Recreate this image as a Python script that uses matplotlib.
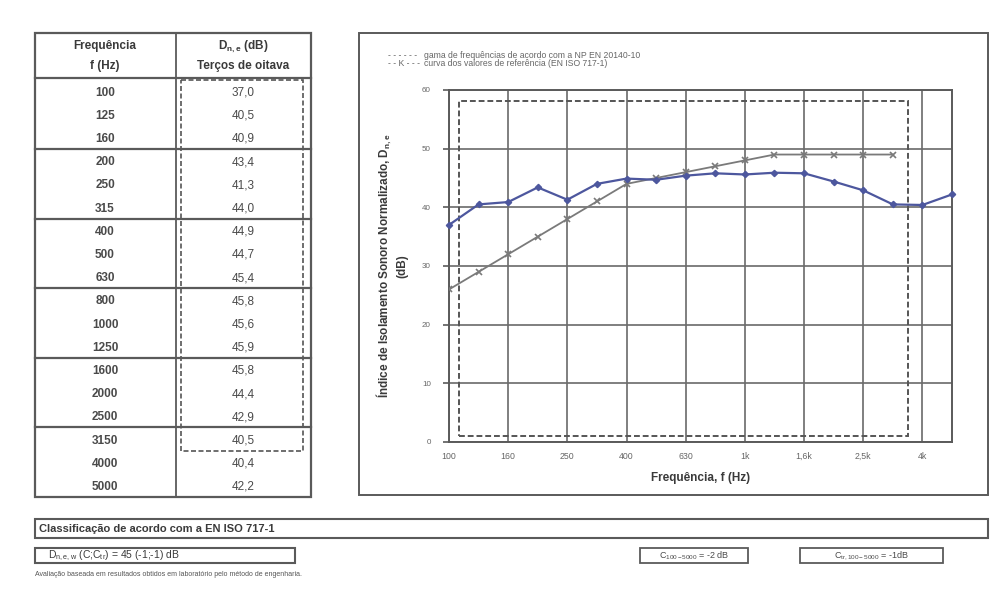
import numpy as np
import matplotlib
matplotlib.use("Agg")
import matplotlib.pyplot as plt
from matplotlib.patches import Rectangle

plt.rcParams['font.family'] = ['Liberation Sans', 'DejaVu Sans']
plt.rcParams['mathtext.fontset'] = 'custom'
plt.rcParams['mathtext.rm'] = 'Liberation Sans'
plt.rcParams['mathtext.it'] = 'Liberation Sans:italic'
plt.rcParams['mathtext.bf'] = 'Liberation Sans:bold'

# data
freqs = ['100', '125', '160', '200', '250', '315', '400', '500', '630',
         '800', '1000', '1250', '1600', '2000', '2500', '3150', '4000', '5000']
dne = [37.0, 40.5, 40.9, 43.4, 41.3, 44.0, 44.9, 44.7, 45.4,
       45.8, 45.6, 45.9, 45.8, 44.4, 42.9, 40.5, 40.4, 42.2]
ref_curve = [26, 29, 32, 35, 38, 41, 44, 45, 46, 47, 48, 49, 49, 49, 49, 49]
xtick_labels = ['100', '160', '250', '400', '630', '1k', '1,6k', '2,5k', '4k']
yticks = [0, 10, 20, 30, 40, 50, 60]

W, H = 997, 611
fig = plt.figure(figsize=(W / 100, H / 100), dpi=100)
fig.patch.set_facecolor('white')

bg = fig.add_axes([0, 0, 1, 1])
bg.set_xlim(0, W)
bg.set_ylim(H, 0)
bg.axis('off')

dark = '#3a3a3a'
grey = '#5a5a5a'

def box(x0, y0, x1, y1, lw=1.3, ls='-', col=grey):
    bg.add_patch(Rectangle((x0, y0), x1 - x0, y1 - y0, fill=False, lw=lw, ls=ls, ec=col))

def hline(y, x0, x1, lw=1.3):
    bg.plot([x0, x1], [y, y], color=grey, lw=lw)

# ---- left table
tx0, tx1, tdiv = 35, 311, 176
box(tx0, 33, tx1, 497, lw=1.6)
bg.plot([tdiv, tdiv], [33, 497], color=grey, lw=1.3)
hline(78, tx0, tx1, lw=1.6)
bg.text(105, 44, 'Frequência', ha='center', va='center_baseline', fontsize=8.5, fontweight='bold', color=dark)
bg.text(105, 64, 'f (Hz)', ha='center', va='center_baseline', fontsize=8.5, fontweight='bold', color=dark)
bg.text(243, 44, r'D$_{\mathregular{n,e}}$ (dB)', ha='center', va='center_baseline', fontsize=8.5, fontweight='bold', color=dark)
bg.text(243, 64, 'Terços de oitava', ha='center', va='center_baseline', fontsize=8.5, fontweight='bold', color=dark)

row0, rowh = 91, 23.2
for i, (f, v) in enumerate(zip(freqs, dne)):
    y = row0 + i * rowh
    bg.text(105, y, f, ha='center', va='center_baseline', fontsize=8.5, fontweight='bold', color='#4a4a4a')
    bg.text(243, y, f'{v:.1f}'.replace('.', ','), ha='center', va='center_baseline', fontsize=8.5, color='#4a4a4a')
for g in range(1, 6):
    hline(row0 + (3 * g - 0.5) * rowh, tx0, tx1, lw=1.6)
box(181, 80, 303, row0 + 15.5 * rowh, lw=1.2, ls=(0, (3, 1.5)), col='#555555')

# ---- chart frame and legend text
box(359, 33, 988, 495, lw=1.4)
bg.text(388, 55, '- - - - - -', fontsize=6.2, color='#666666', va='center')
bg.text(424, 55, 'gama de frequências de acordo com a NP EN 20140-10',
        fontsize=6.2, color='#666666', va='center')
bg.text(388, 63, '- - K - - -', fontsize=6.2, color='#666666', va='center')
bg.text(424, 63, 'curva dos valores de referência (EN ISO 717-1)',
        fontsize=6.2, color='#666666', va='center')

ax = fig.add_axes([449 / W, 1 - 442 / H, (952 - 449) / W, (442 - 90) / H])
ax.set_facecolor('none')
x = np.arange(len(freqs))
ax.set_xlim(0, len(freqs) - 1)
ax.set_ylim(0, 60)
ax.set_xticks(x[::2])
ax.set_xticklabels(xtick_labels, fontsize=6.3, color='#666666')
ax.set_yticks(yticks)
ax.set_yticklabels([str(t) for t in yticks], fontsize=5.8, color='#666666')
ax.tick_params(axis='x', length=0, pad=7)
ax.tick_params(axis='y', length=4, width=1.2, color=grey, pad=9)
ax.grid(True, color='#6a6a6a', lw=1.2)
ax.set_axisbelow(True)
for s in ax.spines.values():
    s.set_color(grey)
    s.set_linewidth(1.4)

ax.add_patch(Rectangle((0.35, 1.0), 15.5 - 0.35, 58.1 - 1.0, fill=False,
                       lw=1.4, ls=(0, (3, 1.5)), ec='#555555', zorder=3))
ax.plot(x[:len(ref_curve)], ref_curve, color='#7a7a7a', lw=1.3, marker='x',
        ms=4, mew=1.2, zorder=4)
ax.plot(x, dne, color='#4d579e', lw=1.6, marker='D', ms=3.2, zorder=5, clip_on=False)

ax.set_xlabel('Frequência, f (Hz)', fontsize=8.5, fontweight='bold', color=dark, labelpad=8)
ax.set_ylabel('Índice de Isolamento Sonoro Normalizado, D$_{\\mathregular{n,e}}$\n(dB)',
              fontsize=8.5, fontweight='bold', color=dark, labelpad=10)

# ---- bottom classification
box(35, 519, 988, 538, lw=1.5)
bg.text(39, 528.5, 'Classificação de acordo com a EN ISO 717-1', va='center',
        fontsize=8, fontweight='bold', color=dark)
box(35, 548, 295, 563, lw=1.5)
bg.text(48, 555.5, r'D$_{\mathregular{n,e,w}}$ (C;C$_{\mathregular{tr}}$) = 45 (-1;-1) dB',
        va='center', fontsize=7.5, color=dark)
box(640, 548, 748, 563, lw=1.3)
bg.text(694, 555.5, r'C$_{\mathregular{100-5000}}$ = -2 dB', ha='center', va='center',
        fontsize=6.5, color='#4a4a4a')
box(800, 548, 943, 563, lw=1.3)
bg.text(871, 555.5, r'C$_{\mathregular{tr,100-5000}}$ = -1dB', ha='center', va='center',
        fontsize=6.5, color='#4a4a4a')
bg.text(35, 574, 'Avaliação baseada em resultados obtidos em laboratório pelo método de engenharia.',
        va='center', fontsize=5, color='#555555')

fig.savefig('out.png', dpi=100, facecolor='white')
